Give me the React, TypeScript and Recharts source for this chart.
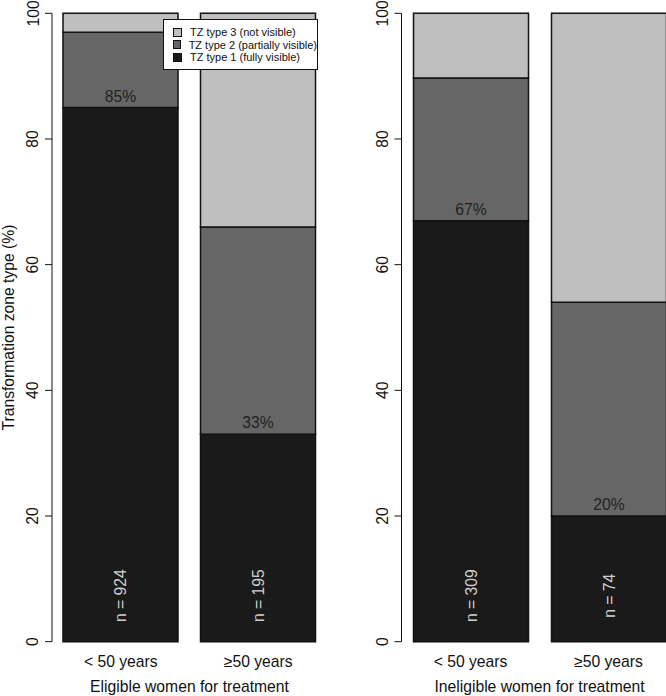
import { BarChart, Bar, XAxis, YAxis, LabelList, Legend } from "recharts";

const ageGroups = ["< 50 years", "≥50 years"];
const yTicks = [0, 20, 40, 60, 80, 100];

const eligibleType1 = [85, 33];
const eligibleType2 = [12, 33];
const eligibleType3 = [3, 34];
const eligibleN = [924, 195];

const ineligibleType1 = [67, 20];
const ineligibleType2 = [22.7, 34];
const ineligibleType3 = [10.3, 46];
const ineligibleN = [309, 74];

const seriesNames = ["TZ type 3 (not visible)", "TZ type 2 (partially visible)", "TZ type 1 (fully visible)"];
const seriesColors = ["#bfbfbf", "#666666", "#1a1a1a"];

const FONT = '"Liberation Sans", Arial, Helvetica, sans-serif';
const FS = 15.7;

const buildRows = (t1: number[], t2: number[], t3: number[], n: number[]) =>
  ageGroups.map((group, i) => ({ group, type1: t1[i], type2: t2[i], type3: t3[i], n: n[i] }));

const eligibleRows = buildRows(eligibleType1, eligibleType2, eligibleType3, eligibleN);
const ineligibleRows = buildRows(ineligibleType1, ineligibleType2, ineligibleType3, ineligibleN);

const YTick = ({ x, y, payload }: any) => (
  <text
    x={x - 6.5}
    y={y}
    transform={`rotate(-90, ${x - 6.5}, ${y})`}
    textAnchor="middle"
    fontSize={FS}
    fontFamily={FONT}
    fill="#111"
  >
    {payload.value}
  </text>
);

const XTick = ({ x, y, payload }: any) => (
  <text x={x} y={y + 23.5} textAnchor="middle" fontSize={FS} fontFamily={FONT} fill="#111">
    {payload.value}
  </text>
);

const YTitle = ({ viewBox, value }: any) => {
  const cx = 13.5;
  const cy = viewBox.y + viewBox.height / 2;
  return (
    <text
      x={cx}
      y={cy}
      transform={`rotate(-90, ${cx}, ${cy})`}
      textAnchor="middle"
      fontSize={FS}
      fontFamily={FONT}
      fill="#111"
    >
      {value}
    </text>
  );
};

const makeType1Label = (rows: Array<{ n: number; type1: number }>) => (props: any) => {
  const { x, y, width, height, index } = props;
  const cx = x + width / 2;
  const bottom = y + height;
  const row = rows[index];
  return (
    <g>
      <text x={cx} y={y - 6} textAnchor="middle" fontSize={FS} fontFamily={FONT} fill="#222">
        {`${Math.round(row.type1)}%`}
      </text>
      <text
        x={cx + 6}
        y={bottom - 46}
        transform={`rotate(-90, ${cx + 6}, ${bottom - 46})`}
        textAnchor="middle"
        fontSize={FS}
        fontFamily={FONT}
        fill="#d0d0d0"
      >
        {`n = ${row.n}`}
      </text>
    </g>
  );
};

const LegendBox = () => (
  <div
    style={{
      width: 155,
      height: 51,
      border: "1px solid #111",
      background: "#fff",
      boxSizing: "border-box",
      padding: "6px 0 0 9px",
      fontFamily: FONT,
      fontSize: 11,
      color: "#111",
      lineHeight: "12.5px",
    }}
  >
    {seriesNames.map((name, i) => (
      <div key={name} style={{ display: "flex", alignItems: "center", whiteSpace: "nowrap" }}>
        <span
          style={{
            width: 7,
            height: 7,
            background: seriesColors[i],
            border: "1px solid #111",
            marginRight: 8,
            display: "inline-block",
          }}
        />
        {name}
      </div>
    ))}
  </div>
);

type PanelProps = {
  rows: ReturnType<typeof buildRows>;
  title: string;
  width: number;
  axisWidth: number;
  rightMargin: number;
  yTitle?: string;
  showLegend?: boolean;
};

const Panel = ({ rows, title, width, axisWidth, rightMargin, yTitle, showLegend }: PanelProps) => (
  <BarChart
    width={width}
    height={696}
    data={rows}
    margin={{ top: 13.3, right: rightMargin, left: 0, bottom: 0 }}
    barSize={115}
  >
    <XAxis
      dataKey="group"
      axisLine={false}
      tickLine={false}
      tickSize={0}
      height={54.3}
      tick={<XTick />}
      label={{
        value: title,
        position: "insideBottom",
        offset: 4,
        fontSize: FS,
        fontFamily: FONT,
        fill: "#111",
      }}
    />
    <YAxis
      width={axisWidth}
      domain={[0, 100]}
      ticks={yTicks}
      interval={0}
      tickSize={7}
      tickMargin={0}
      axisLine={{ stroke: "#111", strokeWidth: 1 }}
      tickLine={{ stroke: "#111", strokeWidth: 1 }}
      tick={<YTick />}
      label={yTitle ? { value: yTitle, content: <YTitle value={yTitle} /> } : undefined}
    />
    {showLegend && (
      <Legend
        layout="vertical"
        align="center"
        verticalAlign="middle"
        content={<LegendBox />}
        wrapperStyle={{ left: 163, top: 19, width: 155, right: "auto", bottom: "auto" }}
      />
    )}
    <Bar dataKey="type1" stackId="tz" fill={seriesColors[2]} stroke="#111" strokeWidth={1.5} isAnimationActive={false}>
      <LabelList dataKey="type1" content={makeType1Label(rows)} />
    </Bar>
    <Bar dataKey="type2" stackId="tz" fill={seriesColors[1]} stroke="#111" strokeWidth={1.5} isAnimationActive={false} />
    <Bar dataKey="type3" stackId="tz" fill={seriesColors[0]} stroke="#111" strokeWidth={1.5} isAnimationActive={false} />
  </BarChart>
);

export default function App() {
  return (
    <div
      style={{
        position: "absolute",
        left: 0,
        top: 0,
        width: 666,
        height: 696,
        overflow: "hidden",
        background: "#fff",
      }}
    >
      <div style={{ position: "absolute", left: 0, top: 0 }}>
        <Panel
          rows={eligibleRows}
          title="Eligible women for treatment"
          width={345}
          axisWidth={52}
          rightMargin={18}
          yTitle="Transformation zone type (%)"
          showLegend
        />
      </div>
      <div style={{ position: "absolute", left: 345, top: 0 }}>
        <Panel
          rows={ineligibleRows}
          title="Ineligible women for treatment"
          width={335}
          axisWidth={56.5}
          rightMargin={2.5}
        />
      </div>
    </div>
  );
}
